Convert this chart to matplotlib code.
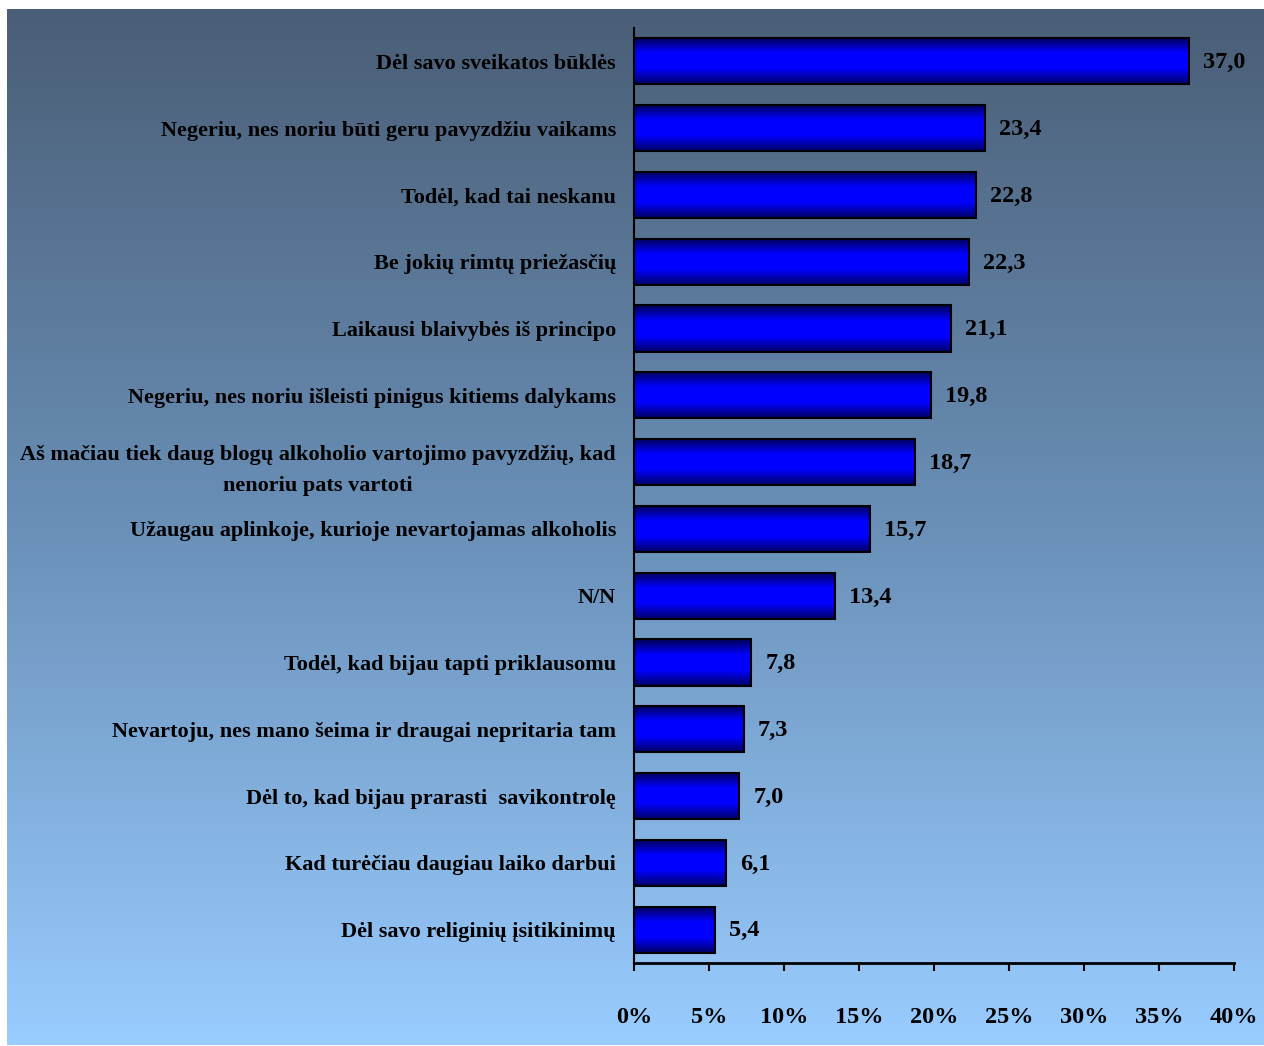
import numpy as np
import matplotlib.pyplot as plt
from matplotlib.colors import LinearSegmentedColormap

categories = [
    "Dėl savo sveikatos būklės",
    "Negeriu, nes noriu būti geru pavyzdžiu vaikams",
    "Todėl, kad tai neskanu",
    "Be jokių rimtų priežasčių",
    "Laikausi blaivybės iš principo",
    "Negeriu, nes noriu išleisti pinigus kitiems dalykams",
    "Aš mačiau tiek daug blogų alkoholio vartojimo pavyzdžių, kad\nnenoriu pats vartoti",
    "Užaugau aplinkoje, kurioje nevartojamas alkoholis",
    "N/N",
    "Todėl, kad bijau tapti priklausomu",
    "Nevartoju, nes mano šeima ir draugai nepritaria tam",
    "Dėl to, kad bijau prarasti  savikontrolę",
    "Kad turėčiau daugiau laiko darbui",
    "Dėl savo religinių įsitikinimų",
]
values = [37.0, 23.4, 22.8, 22.3, 21.1, 19.8, 18.7, 15.7, 13.4, 7.8, 7.3, 7.0, 6.1, 5.4]
xticks = [0, 5, 10, 15, 20, 25, 30, 35, 40]

plt.rcParams["font.family"] = ["Liberation Serif", "DejaVu Serif"]
plt.rcParams["font.weight"] = "bold"

W, H = 1264, 1046
fig = plt.figure(figsize=(W / 100, H / 100), dpi=100)

# background gradient (white margin at top and left)
bg = fig.add_axes([0, 0, 1, 1], zorder=-10)
bg_cmap = LinearSegmentedColormap.from_list("bg", ["#4a5e76", "#6a90b8", "#99ccff"])
grad = np.linspace(0, 1, 256).reshape(-1, 1)
bg.imshow(grad, aspect="auto", cmap=bg_cmap, extent=[7, W, 1045, 9])
bg.set_xlim(0, W)
bg.set_ylim(H, 0)
bg.axis("off")

# main axes in pixel positions
x0, x1 = 634, 1234
y_top, y_bot = 28, 963
ax = fig.add_axes([x0 / W, 1 - y_bot / H, (x1 - x0) / W, (y_bot - y_top) / H])
ax.patch.set_alpha(0)

y = np.arange(len(categories))
bars = ax.barh(y, values, height=0.69, color="none", edgecolor="black", linewidth=1.5, zorder=3)

bar_cmap = LinearSegmentedColormap.from_list("bar", ["#000058", "#0000ff", "#0000ff", "#000068"])
bgrad = np.linspace(0, 1, 64).reshape(-1, 1)
for b in bars:
    im = ax.imshow(bgrad, aspect="auto", cmap=bar_cmap, zorder=2,
                   extent=[b.get_x(), b.get_x() + b.get_width(), b.get_y() + b.get_height(), b.get_y()])
    im.set_clip_path(b)

for yi, v in zip(y, values):
    ax.text(v + 0.95, yi + 0.02, f"{v:.1f}".replace(".", ","), va="center", ha="left",
            fontsize=17.5, fontweight="bold")

ax.set_xlim(0, 40)
ax.set_ylim(len(categories) - 0.5, -0.5)
ax.set_xticks(xticks)
ax.set_xticklabels([f"{t}%" for t in xticks], fontsize=17.5, fontweight="bold")
ax.set_yticks(y)
ax.set_yticklabels(categories, fontsize=16, fontweight="bold", multialignment="center",
                   linespacing=1.75)
ax.tick_params(axis="y", length=0, pad=13)
ax.tick_params(axis="x", length=6, width=1.5, pad=26, direction="out")
for s in ["top", "right"]:
    ax.spines[s].set_visible(False)
ax.spines["left"].set_linewidth(1.5)
ax.spines["bottom"].set_linewidth(2)

fig.savefig("out.png", dpi=100)
